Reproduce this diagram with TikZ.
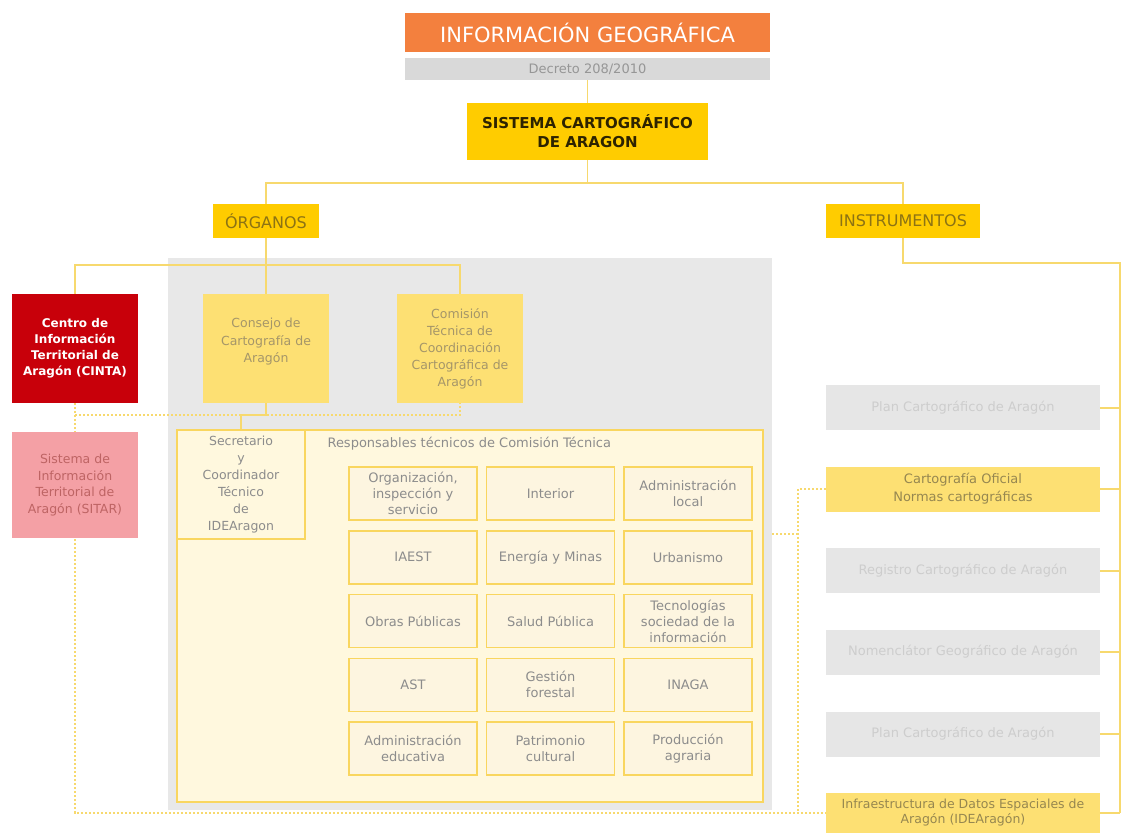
\documentclass[tikz,border=0pt]{standalone}
\usepackage{fontspec}
\setmainfont{DejaVu Sans}
\usetikzlibrary{calc}

\definecolor{naranja}{RGB}{243,128,62}
\definecolor{grisbarra}{RGB}{217,217,217}
\definecolor{grisdecreto}{RGB}{150,150,150}
\definecolor{oro}{RGB}{255,204,0}
\definecolor{orosuave}{RGB}{253,224,115}
\definecolor{marron}{RGB}{45,35,0}
\definecolor{oliva}{RGB}{140,115,20}
\definecolor{olivaclaro}{RGB}{150,135,80}
\definecolor{orotexto}{RGB}{165,150,105}
\definecolor{lineaoro}{RGB}{247,217,110}
\definecolor{grispanel}{RGB}{232,232,232}
\definecolor{cremaclaro}{RGB}{255,248,222}
\definecolor{crema}{RGB}{253,245,224}
\definecolor{bordeoro}{RGB}{249,214,95}
\definecolor{gristexto}{RGB}{140,140,140}
\definecolor{grisinstr}{RGB}{230,230,230}
\definecolor{grisletra}{RGB}{205,205,205}
\definecolor{rojo}{RGB}{200,0,10}
\definecolor{rosa}{RGB}{244,160,165}
\definecolor{rosatexto}{RGB}{190,100,100}

\pgfdeclarelayer{fondo}
\pgfdeclarelayer{lineas}
\pgfsetlayers{fondo,lineas,main}

\begin{document}
\begin{tikzpicture}[x=1pt, y=-1pt,
        caja/.style={rectangle, inner sep=2pt, align=center},
        linea/.style={draw=lineaoro, line width=1.5pt},
        punteado/.style={draw=lineaoro, line width=1.5pt, dash pattern=on 2pt off 2pt},
        celda/.style={caja, draw=bordeoro, line width=1.5pt, fill=crema, minimum width=128pt, minimum height=53pt, text=gristexto, font=\fontsize{13}{16}\selectfont},
        instr/.style={caja, minimum width=274pt, minimum height=45pt, fill=grisinstr, text=grisletra, font=\fontsize{13}{18}\selectfont}]
        \useasboundingbox (0,0) rectangle (1123,833);
        \begin{pgfonlayer}{fondo}
            \fill[white] (0,0) rectangle (1123,833);
            \node[fill=grispanel, inner sep=0pt, minimum width=604pt, minimum height=552pt] (panel) at (470,534) {};
        \end{pgfonlayer}

        \node[caja, fill=naranja, minimum width=365pt, minimum height=39pt, text=white, font=\fontsize{21}{24}\selectfont] (titulo) at (587.5,32.5) {INFORMACIÓN GEOGRÁFICA};
        \node[caja, fill=grisbarra, minimum width=365pt, minimum height=22pt, text=grisdecreto, font=\fontsize{13}{14}\selectfont] (decreto) at (587.5,69) {Decreto 208/2010};
        \node[caja, fill=oro, minimum width=241pt, minimum height=57pt, text=marron, font=\bfseries\fontsize{15}{19}\selectfont] (sca) at (587.5,131.5) {SISTEMA CARTOGRÁFICO\\DE ARAGON};
        \node[caja, fill=oro, minimum width=106pt, minimum height=34pt, text=oliva, font=\fontsize{16}{18}\selectfont] (organos) at (266,221) {ÓRGANOS};
        \node[caja, fill=oro, minimum width=154pt, minimum height=34pt, text=oliva, font=\fontsize{16}{18}\selectfont] (instrumentos) at (903,221) {INSTRUMENTOS};

        \node[caja, fill=rojo, minimum width=126pt, minimum height=109pt, text=white, font=\bfseries\fontsize{12}{16}\selectfont] (cinta) at (75,348.5) {Centro de\\Información\\Territorial de\\Aragón (CINTA)};
        \node[caja, fill=rosa, minimum width=126pt, minimum height=106pt, text=rosatexto, font=\fontsize{12.5}{16.5}\selectfont] (sitar) at (75,485) {Sistema de\\Información\\Territorial de\\Aragón (SITAR)};

        \node[caja, fill=orosuave, minimum width=126pt, minimum height=109pt, text=orotexto, font=\fontsize{12.5}{17.5}\selectfont] (consejo) at (266,348.5) {Consejo de\\Cartografía de\\Aragón\\[-1.5pt]};
        \node[caja, fill=orosuave, minimum width=126pt, minimum height=109pt, text=orotexto, font=\fontsize{12.5}{17}\selectfont] (comision) at (460,348.5) {Comisión\\Técnica de\\Coordinación\\Cartográfica de\\Aragón};

        \node[draw=bordeoro, line width=2pt, fill=cremaclaro, minimum width=586pt, minimum height=372pt] (resp) at (470,616) {};
        \node[caja, draw=bordeoro, line width=2pt, fill=cremaclaro, minimum width=128pt, minimum height=109pt, text=gristexto, font=\fontsize{12.5}{17}\selectfont] (secretario) at (241,484.5) {Secretario\\y\\Coordinador\\Técnico\\de\\IDEAragon};
        \node[anchor=west, text=gristexto, font=\fontsize{13}{15}\selectfont] (resptitulo) at (324,444) {Responsables técnicos de Comisión Técnica};

        \foreach \a/\b/\c [count=\i] in {{Organización,\\inspección y\\servicio}/Interior/{Administración\\local},
                IAEST/{Energía y Minas}/Urbanismo,
                {Obras Públicas}/{Salud Pública}/{Tecnologías\\sociedad de la\\información},
                AST/{Gestión\\forestal}/INAGA,
                {Administración\\educativa}/{Patrimonio\\cultural}/{Producción\\agraria}}{
            \pgfmathsetmacro{\fy}{493.5+63.75*(\i-1)}
            \node[celda] (celda-\i-1) at (413,\fy) {\a};
            \node[celda] (celda-\i-2) at (550.5,\fy) {\b};
            \node[celda] (celda-\i-3) at (688,\fy) {\c};
        }

        \node[instr] (plan) at (963,407.5) {Plan Cartográfico de Aragón};
        \node[instr, fill=orosuave, text=olivaclaro] (oficial) at (963,489) {Cartografía Oficial\\Normas cartográficas};
        \node[instr] (registro) at (963,570.5) {Registro Cartográfico de Aragón};
        \node[instr] (nomenclator) at (963,652) {Nomenclátor Geográfico de Aragón};
        \node[instr] (plandos) at (963,734) {Plan Cartográfico de Aragón};
        \node[instr, fill=orosuave, text=olivaclaro, minimum height=40pt, font=\fontsize{12.5}{15}\selectfont] (ide) at (963,813) {Infraestructura de Datos Espaciales de\\Aragón (IDEAragón)};

        \coordinate (bus1) at (0,183);
        \coordinate (bus2) at (0,265);
        \coordinate (bus3) at (0,415);
        \coordinate (riel) at (1120,263);
        \coordinate (bajada) at (798,0);

        \begin{pgfonlayer}{lineas}
            \draw[linea] (decreto.south) -- (sca.north);
            \draw[linea] (sca.south) -- (sca.south |- bus1);
            \draw[linea] (organos.north) -- (organos.north |- bus1) -| (instrumentos.north);
            \draw[linea] (organos.south) -- (consejo.north);
            \draw[linea] (cinta.north) -- (cinta.north |- bus2) -| (comision.north);
            \draw[linea] (instrumentos.south) |- (riel) -- (riel |- ide.east);
            \foreach \n in {plan,oficial,registro,nomenclator,plandos,ide}
                \draw[linea, line width=2pt] (\n.east) -- (\n.east -| riel);
            \draw[linea] (consejo.south) -- (consejo.south |- bus3) -| (secretario.north);
            \draw[punteado] (cinta.south) |- (ide.west);
            \draw[punteado] (cinta.south |- bus3) -| (comision.south);
            \draw[punteado] (oficial.west) -| (bajada |- ide.west);
            \draw[punteado] (panel.east) -- (panel.east -| bajada);
        \end{pgfonlayer}
    \end{tikzpicture}
\end{document}
